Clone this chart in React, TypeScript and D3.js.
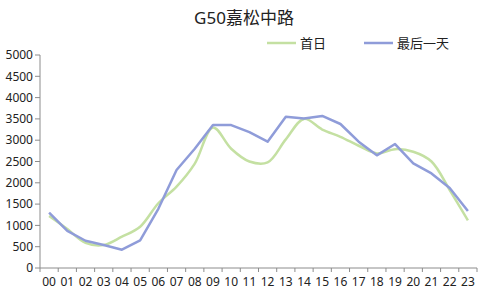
import React from "react";
import * as d3 from "d3";

const hours = ["00","01","02","03","04","05","06","07","08","09","10","11","12","13","14","15","16","17","18","19","20","21","22","23"];
const firstDay = [1220, 915, 590, 540, 735, 970, 1520, 1910, 2450, 3300, 2800, 2500, 2480, 3020, 3500, 3250, 3080, 2870, 2690, 2790, 2730, 2500, 1830, 1120];
const lastDay = [1300, 870, 640, 540, 430, 650, 1390, 2300, 2800, 3355, 3355, 3190, 2965, 3550, 3510, 3570, 3380, 2965, 2645, 2910, 2455, 2220, 1880, 1340];
const yTicks = [0, 500, 1000, 1500, 2000, 2500, 3000, 3500, 4000, 4500, 5000];
const seriesNames = ["首日", "最后一天"];
const colors = ["#c4e0a2", "#8f9cd9"];

export default function App() {
  const W = 488, H = 302;
  const left = 40, right = 477, top = 55, bottom = 268;
  const x = d3.scaleBand<string>().domain(hours).range([left, right]).padding(0);
  const y = d3.scaleLinear().domain([0, 5000]).range([bottom, top]);
  const cx = (i: number) => (x(hours[i]) as number) + x.bandwidth() / 2;
  const smooth = d3.line<number>().x((_, i) => cx(i)).y(d => y(d)).curve(d3.curveCatmullRom.alpha(0.5));
  const straight = d3.line<number>().x((_, i) => cx(i)).y(d => y(d));
  const font = "'Noto Sans', 'Noto Sans CJK SC', sans-serif";
  const axisColor = "#8c8c8c";
  const boundaries = hours.map(h => x(h) as number).concat([right]);
  return (
    <svg width={W} height={H} style={{ position: "absolute", left: 0, top: 0, background: "#fff" }} fontFamily={font}>
      <text x={244} y={24} textAnchor="middle" fontSize={17} fill="#222">G50嘉松中路</text>
      {/* legend */}
      <line x1={267} y1={43} x2={296} y2={43} stroke={colors[0]} strokeWidth={2.5} />
      <text x={300} y={48} fontSize={13} fill="#222">{seriesNames[0]}</text>
      <line x1={364} y1={43} x2={393} y2={43} stroke={colors[1]} strokeWidth={2.5} />
      <text x={397} y={48} fontSize={13} fill="#222">{seriesNames[1]}</text>
      {/* y axis */}
      <line x1={left} y1={top} x2={left} y2={bottom} stroke={axisColor} />
      {yTicks.map(t => (
        <g key={t}>
          <line x1={left - 5} x2={left} y1={y(t)} y2={y(t)} stroke={axisColor} />
          <text x={left - 7} y={y(t)} dy="0.35em" textAnchor="end" fontSize={12} fill="#222">{t}</text>
        </g>
      ))}
      {/* x axis */}
      <line x1={left} y1={bottom} x2={right} y2={bottom} stroke={axisColor} />
      {boundaries.map((b, i) => (
        <line key={i} x1={b} x2={b} y1={bottom} y2={bottom + 4} stroke={axisColor} />
      ))}
      {hours.map((h, i) => (
        <text key={h} x={cx(i)} y={bottom + 18} textAnchor="middle" fontSize={12} fill="#222">{h}</text>
      ))}
      <path d={smooth(firstDay) || ""} fill="none" stroke={colors[0]} strokeWidth={2.5} />
      <path d={straight(lastDay) || ""} fill="none" stroke={colors[1]} strokeWidth={2.5} strokeLinejoin="round" />
    </svg>
  );
}
